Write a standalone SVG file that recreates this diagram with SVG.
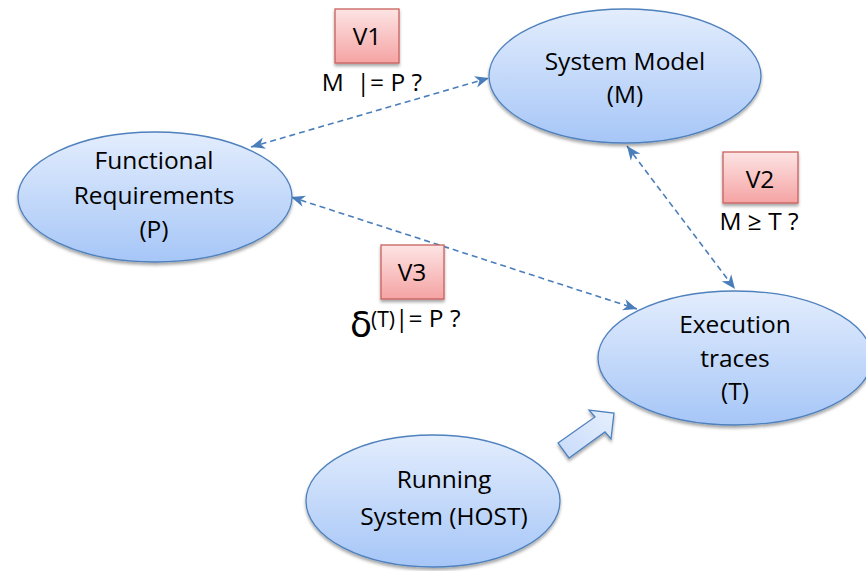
<svg xmlns="http://www.w3.org/2000/svg" width="866" height="571" viewBox="0 0 866 571">
  <defs>
    <linearGradient id="nodeFill" x1="0" y1="0" x2="0" y2="1">
      <stop offset="0" stop-color="#e3edfd"/>
      <stop offset="1" stop-color="#a6c6f7"/>
    </linearGradient>
    <linearGradient id="tagFill" x1="0" y1="0" x2="0" y2="1">
      <stop offset="0" stop-color="#fde4e4"/>
      <stop offset="1" stop-color="#f5a3a3"/>
    </linearGradient>
    <linearGradient id="arrowFill" x1="0" y1="1" x2="1" y2="0">
      <stop offset="0" stop-color="#c8dbfa"/>
      <stop offset="1" stop-color="#e6effd"/>
    </linearGradient>
    <filter id="shadow" x="-10%" y="-10%" width="120%" height="130%">
      <feDropShadow dx="0" dy="2.5" stdDeviation="1.5" flood-color="#000" flood-opacity="0.35"/>
    </filter>
    <marker id="head" viewBox="0 0 12 10" refX="12" refY="5" markerWidth="14" markerHeight="12" markerUnits="userSpaceOnUse" orient="auto-start-reverse">
      <path d="M0,0 L12,5 L0,10 L3.5,5 z" fill="#4a7ebb"/>
    </marker>
  </defs>
  <style>
    .node { fill: url(#nodeFill); stroke: #4f81bd; stroke-width: 1.3; filter: url(#shadow); }
    .tag { fill: url(#tagFill); stroke: #c9605d; stroke-width: 1.3; filter: url(#shadow); }
    .lbl { font-family: "Open Sans", "Liberation Sans", sans-serif; font-size: 24.5px; fill: #000; text-anchor: middle; }
    .link { stroke: #4a7ebb; stroke-width: 1.6; stroke-dasharray: 6 4; fill: none; marker-start: url(#head); marker-end: url(#head); }
  </style>

  <!-- dashed verification links -->
  <g id="connectors">
    <line class="link" x1="251" y1="147" x2="489" y2="78"/>
    <line class="link" x1="627" y1="146" x2="735" y2="289"/>
    <line class="link" x1="291" y1="197" x2="637" y2="309"/>
    <!-- block arrow from the running system to its traces -->
    <path d="M558,443 L595,417 L589,410 L614,413 L611,439 L605,432 L569,458 z" fill="url(#arrowFill)" stroke="#4f81bd" stroke-width="1.3" filter="url(#shadow)"/>
  </g>

  <g id="functional-requirements">
    <ellipse class="node" cx="155" cy="197" rx="137" ry="65"/>
    <text class="lbl" x="154" y="169">Functional</text>
    <text class="lbl" x="154" y="204">Requirements</text>
    <text class="lbl" x="154" y="238">(P)</text>
  </g>

  <g id="system-model">
    <ellipse class="node" cx="625" cy="76" rx="136" ry="67"/>
    <text class="lbl" x="625" y="70">System Model</text>
    <text class="lbl" x="625" y="103">(M)</text>
  </g>

  <g id="execution-traces">
    <ellipse class="node" cx="735" cy="358" rx="137" ry="67"/>
    <text class="lbl" x="735" y="333">Execution</text>
    <text class="lbl" x="735" y="367">traces</text>
    <text class="lbl" x="735" y="400">(T)</text>
  </g>

  <g id="running-system">
    <ellipse class="node" cx="433" cy="501" rx="127" ry="66"/>
    <text class="lbl" x="444" y="488">Running</text>
    <text class="lbl" x="444" y="525">System (HOST)</text>
  </g>

  <g id="v1">
    <rect class="tag" x="335" y="9" width="64" height="54"/>
    <text class="lbl" x="367" y="45">V1</text>
    <text class="lbl" x="372" y="91" xml:space="preserve">M  |= P ?</text>
  </g>

  <g id="v2">
    <rect class="tag" x="723" y="152" width="75" height="51"/>
    <text class="lbl" x="760" y="188">V2</text>
    <text class="lbl" x="759" y="230">M ≥ T ?</text>
  </g>

  <g id="v3">
    <rect class="tag" x="381" y="245" width="63" height="54"/>
    <text class="lbl" x="412" y="281">V3</text>
    <text font-family="Open Sans, Liberation Sans, sans-serif" fill="#000"><tspan x="350" y="337" font-size="36" font-family="DejaVu Sans, sans-serif">δ</tspan><tspan x="371" y="327" font-size="21">(T)</tspan><tspan font-size="24.5">|= P ?</tspan></text>
  </g>
</svg>
